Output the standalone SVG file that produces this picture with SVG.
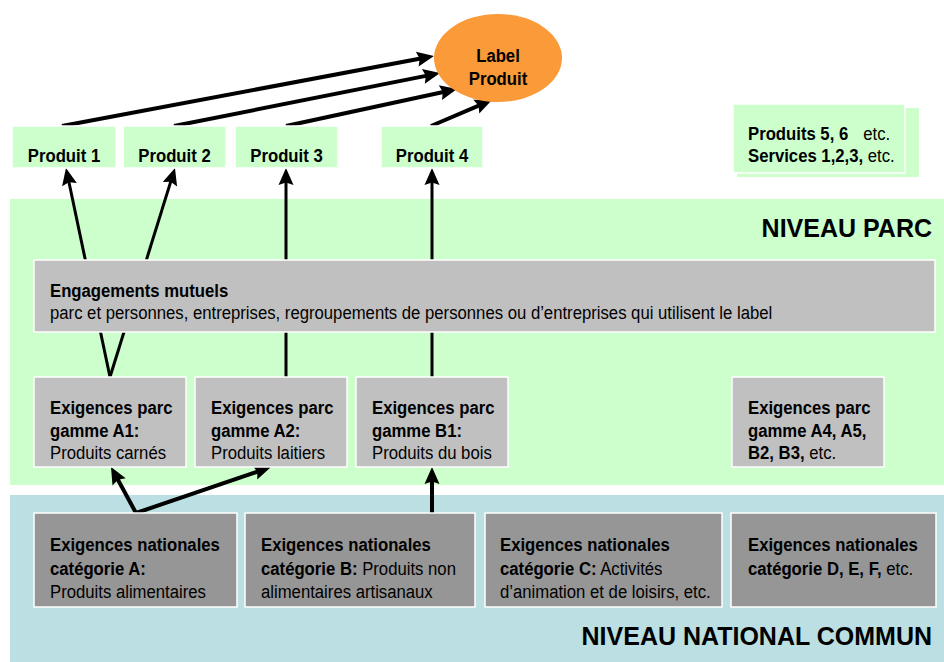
<svg xmlns="http://www.w3.org/2000/svg" width="944" height="662" viewBox="0 0 944 662">
<style>
text{font-family:"Liberation Sans",Arial,sans-serif;font-size:19px;fill:#000}
.b{font-weight:bold}
.r{font-weight:normal}
.big{font-size:25px;font-weight:bold}
.prod{fill:#CCFFCC;stroke:#fff;stroke-width:1.5}
.parc{fill:#C0C0C0;stroke:#fff;stroke-width:1.5}
.nat{fill:#969696;stroke:#fff;stroke-width:1.5}
.c3{stroke:#000;stroke-width:3;fill:none;marker-end:url(#ah)}
.c4{stroke:#000;stroke-width:4;fill:none;marker-end:url(#ah)}
</style>
<defs>
<marker id="ah" markerUnits="userSpaceOnUse" markerWidth="20" markerHeight="18" viewBox="0 -9 18 18" refX="9" refY="0" orient="auto">
<path d="M0,-7.5 L17,0 L0,7.5 L2.5,0 z" fill="#000"/>
</marker>
</defs>
<rect width="944" height="662" fill="#fff"/>
<g id="band-parc">
<rect x="10" y="199" width="934" height="286" fill="#CCFFCC"/>
<text class="big" x="932" y="237" text-anchor="end">NIVEAU PARC</text>
</g>
<g id="band-national">
<rect x="10" y="495" width="934" height="167" fill="#BBDFE2"/>
<text class="big" x="932" y="645" text-anchor="end">NIVEAU NATIONAL COMMUN</text>
</g>
<g id="connectors">
<line class="c4" x1="62" y1="126" x2="426.1" y2="57.5"/>
<line class="c4" x1="174" y1="126" x2="432.2" y2="74.6"/>
<line class="c4" x1="286" y1="126" x2="449.2" y2="90.7"/>
<line class="c4" x1="431" y1="126" x2="484.6" y2="103.1"/>
<line class="c3" x1="110" y1="377" x2="67.6" y2="175.8"/>
<line class="c3" x1="110" y1="377" x2="172.6" y2="175.6"/>
<line class="c3" x1="286" y1="377" x2="286" y2="176"/>
<line class="c3" x1="432" y1="377" x2="432" y2="176"/>
<line class="c4" x1="136" y1="513" x2="114.8" y2="474"/>
<line class="c4" x1="136" y1="513" x2="263.4" y2="469.6"/>
<line class="c4" x1="432" y1="513" x2="432" y2="475"/>
</g>
<g id="label-produit">
<ellipse cx="498" cy="58" rx="64" ry="44" fill="#FA9A38"/>
<g transform="translate(498,0) scale(0.88,1) translate(-498,0)">
<text class="b" x="498" y="62" text-anchor="middle">Label</text>
<text class="b" x="498" y="85" text-anchor="middle">Produit</text>
</g>
</g>
<g id="produit-1">
<rect class="prod" x="12" y="126" width="104" height="42"/>
<text class="b" x="64" y="162" text-anchor="middle" transform="translate(64,0) scale(0.88,1) translate(-64,0)">Produit 1</text>
</g>
<g id="produit-2">
<rect class="prod" x="123" y="126" width="103" height="42"/>
<text class="b" x="174.5" y="162" text-anchor="middle" transform="translate(174.5,0) scale(0.88,1) translate(-174.5,0)">Produit 2</text>
</g>
<g id="produit-3">
<rect class="prod" x="235" y="126" width="103" height="42"/>
<text class="b" x="286.5" y="162" text-anchor="middle" transform="translate(286.5,0) scale(0.88,1) translate(-286.5,0)">Produit 3</text>
</g>
<g id="produit-4">
<rect class="prod" x="381" y="126" width="102" height="42"/>
<text class="b" x="432" y="162" text-anchor="middle" transform="translate(432,0) scale(0.88,1) translate(-432,0)">Produit 4</text>
</g>
<g id="produits-autres">
<rect x="737" y="108" width="182" height="69" fill="#CCFFCC"/>
<rect class="prod" x="733" y="104" width="172" height="69"/>
<g transform="translate(748,0) scale(0.88,1) translate(-748,0)">
<text x="748" y="140"><tspan class="b">Produits 5, 6</tspan><tspan class="r" x="879">etc.</tspan></text>
<text x="748" y="162"><tspan class="b">Services 1,2,3,</tspan><tspan class="r"> etc.</tspan></text>
</g>
</g>
<g id="engagements">
<rect class="parc" x="34" y="260" width="901" height="72"/>
<g transform="translate(50,0) scale(0.88,1) translate(-50,0)">
<text class="b" x="50" y="297">Engagements mutuels</text>
<text x="50" y="319">parc et personnes, entreprises, regroupements de personnes ou d’entreprises qui utilisent le label</text>
</g>
</g>
<g id="parc-a1">
<rect class="parc" x="34" y="377" width="152" height="90"/>
<g transform="translate(50,0) scale(0.88,1) translate(-50,0)">
<text class="b" x="50" y="414">Exigences parc</text>
<text class="b" x="50" y="437">gamme A1:</text>
<text x="50" y="459">Produits carnés</text>
</g>
</g>
<g id="parc-a2">
<rect class="parc" x="195" y="377" width="152" height="90"/>
<g transform="translate(211,0) scale(0.88,1) translate(-211,0)">
<text class="b" x="211" y="414">Exigences parc</text>
<text class="b" x="211" y="437">gamme A2:</text>
<text x="211" y="459">Produits laitiers</text>
</g>
</g>
<g id="parc-b1">
<rect class="parc" x="356" y="377" width="152" height="90"/>
<g transform="translate(372,0) scale(0.88,1) translate(-372,0)">
<text class="b" x="372" y="414">Exigences parc</text>
<text class="b" x="372" y="437">gamme B1:</text>
<text x="372" y="459">Produits du bois</text>
</g>
</g>
<g id="parc-autres">
<rect class="parc" x="732" y="377" width="152" height="90"/>
<g transform="translate(748,0) scale(0.88,1) translate(-748,0)">
<text class="b" x="748" y="414">Exigences parc</text>
<text class="b" x="748" y="437">gamme A4, A5,</text>
<text x="748" y="459"><tspan class="b">B2, B3,</tspan><tspan class="r"> etc.</tspan></text>
</g>
</g>
<g id="nat-a">
<rect class="nat" x="34" y="513" width="203" height="94"/>
<g transform="translate(50,0) scale(0.88,1) translate(-50,0)">
<text class="b" x="50" y="551">Exigences nationales</text>
<text class="b" x="50" y="575">catégorie A:</text>
<text x="50" y="598">Produits alimentaires</text>
</g>
</g>
<g id="nat-b">
<rect class="nat" x="245" y="513" width="230" height="94"/>
<g transform="translate(261,0) scale(0.88,1) translate(-261,0)">
<text class="b" x="261" y="551">Exigences nationales</text>
<text x="261" y="575"><tspan class="b">catégorie B:</tspan><tspan class="r"> Produits non</tspan></text>
<text x="261" y="598">alimentaires artisanaux</text>
</g>
</g>
<g id="nat-c">
<rect class="nat" x="485" y="513" width="237" height="94"/>
<g transform="translate(500,0) scale(0.88,1) translate(-500,0)">
<text class="b" x="500" y="551">Exigences nationales</text>
<text x="500" y="575"><tspan class="b">catégorie C:</tspan><tspan class="r"> Activités</tspan></text>
<text x="500" y="598">d’animation et de loisirs, etc.</text>
</g>
</g>
<g id="nat-autres">
<rect class="nat" x="731" y="513" width="205" height="94"/>
<g transform="translate(748,0) scale(0.88,1) translate(-748,0)">
<text class="b" x="748" y="551">Exigences nationales</text>
<text x="748" y="575"><tspan class="b">catégorie D, E, F,</tspan><tspan class="r"> etc.</tspan></text>
</g>
</g>
</svg>
